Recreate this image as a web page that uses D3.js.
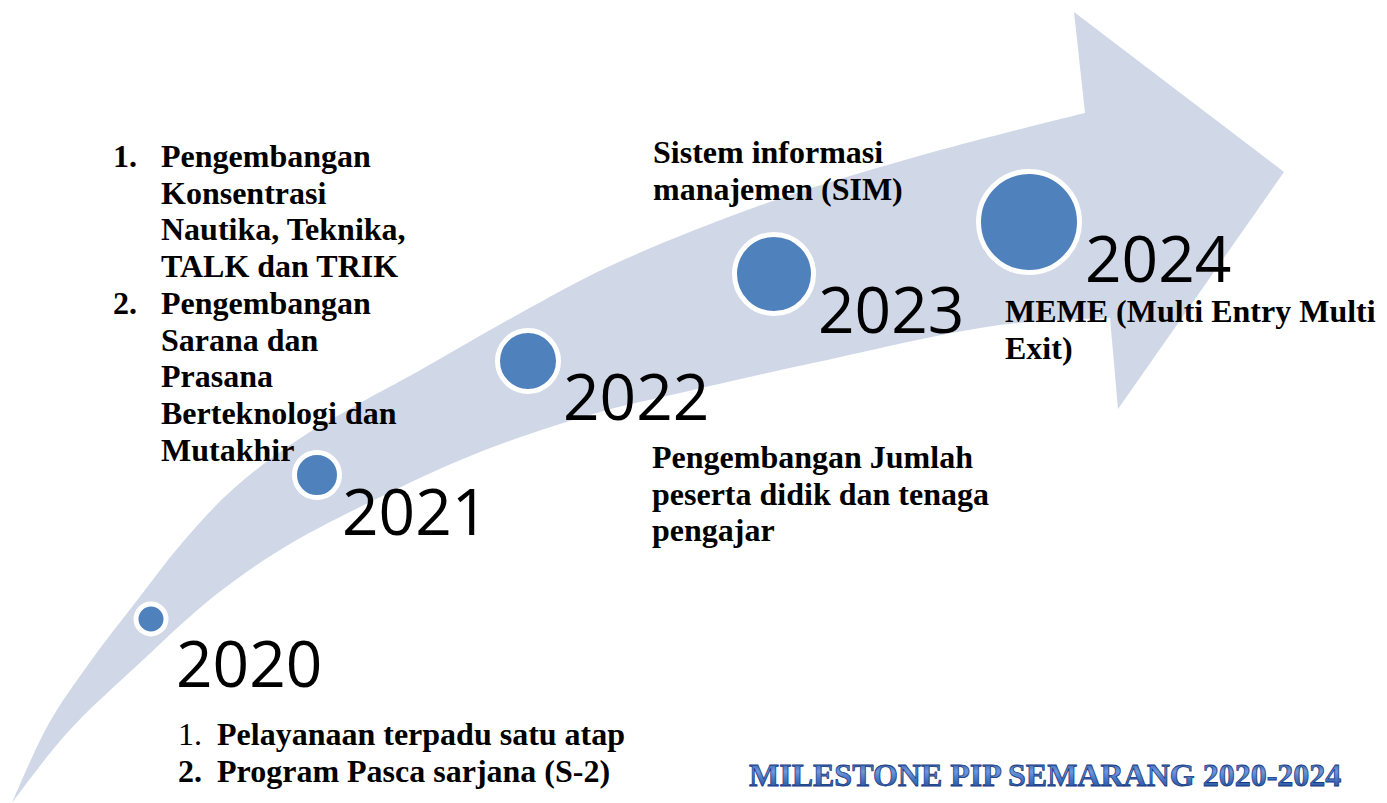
<!DOCTYPE html>
<html>
<head>
<meta charset="utf-8">
<script src="https://cdn.jsdelivr.net/npm/d3@7"></script>
<style>
    html, body { margin: 0; padding: 0; background: #fff; }
    svg { display: block; }
</style>
</head>
<body>
<svg id="milestone"></svg>
<script>
// ---- data ----
const YEARS = ['2020', '2021', '2022', '2023', '2024'];

const NOTES_2020 = [
    { num: '1.', regularNum: true, lines: ['Pelayanaan terpadu satu atap'] },
    { num: '2.', lines: ['Program Pasca sarjana (S-2)'] },
];
const NOTES_2021 = [
    { num: '1.', lines: ['Pengembangan', 'Konsentrasi', 'Nautika, Teknika,', 'TALK dan TRIK'] },
    { num: '2.', lines: ['Pengembangan', 'Sarana dan', 'Prasana', 'Berteknologi dan', 'Mutakhir'] },
];
const NOTES_2022 = [{ lines: ['Pengembangan Jumlah', 'peserta didik dan tenaga', 'pengajar'] }];
const NOTES_2023 = [{ lines: ['Sistem informasi', 'manajemen (SIM)'] }];
const NOTES_2024 = [{ lines: ['MEME (Multi Entry Multi', 'Exit)'] }];
const NOTES = [NOTES_2020, NOTES_2021, NOTES_2022, NOTES_2023, NOTES_2024];

const TITLE = 'MILESTONE PIP SEMARANG 2020-2024';

// ---- layout (diagram units, 1387 x 803) ----
const ARROW_UPPER = [
    [12, 803], [48, 725], [90, 662], [135, 603], [182, 543], [232, 490], [293, 443],
    [360, 403], [417, 372], [517, 315], [610, 266], [767, 203], [933, 152], [1085, 113],
];
const ARROW_HEAD = [[1074, 12], [1284, 172], [1118, 409], [1110, 318]];
const ARROW_LOWER = [
    [1110, 318], [1000, 325], [813, 363], [680, 393], [600, 412], [480, 452],
    [360, 507], [280, 550], [213, 597], [143, 660], [67, 733], [12, 803],
];

const NODES = [
    { cx: 151, cy: 619, r: 12.5 },
    { cx: 317, cy: 475, r: 20 },
    { cx: 528, cy: 361, r: 28 },
    { cx: 774, cy: 274, r: 37 },
    { cx: 1029, cy: 222, r: 48 },
];
const YEAR_POS = [[176, 687], [342, 535], [563, 420], [818, 333], [1085, 282]];
const NOTE_POS = [
    { numX: 178, textX: 217, y: 745 },
    { numX: 113, textX: 161, y: 167 },
    { textX: 652, y: 468 },
    { textX: 653, y: 163 },
    { textX: 1005, y: 322 },
];
const LINE_HEIGHT = 36.7;

const width = 1387;
const height = 803;

const x = d3.scaleLinear().domain([0, 1387]).range([0, width]);
const y = d3.scaleLinear().domain([0, 803]).range([0, height]);

const svg = d3.select('#milestone').attr('width', width).attr('height', height);

// title gradient
const defs = svg.append('defs');
const grad = defs.append('linearGradient')
    .attr('id', 'titleFill')
    .attr('x1', 0).attr('y1', 0).attr('x2', 0).attr('y2', 1);
grad.append('stop').attr('offset', '0%').attr('stop-color', '#1a4596');
grad.append('stop').attr('offset', '40%').attr('stop-color', '#6f97dc');
grad.append('stop').attr('offset', '60%').attr('stop-color', '#4a78c6');
grad.append('stop').attr('offset', '100%').attr('stop-color', '#173f8c');

// arrow body
const edge = d3.line()
    .x(d => x(d[0]))
    .y(d => y(d[1]))
    .curve(d3.curveCatmullRom.alpha(0.5));

const headPath = ARROW_HEAD.map(p => `L${x(p[0])},${y(p[1])}`).join('');
const lowerPath = edge(ARROW_LOWER).replace(/^M/, 'L');

svg.append('path')
    .attr('d', edge(ARROW_UPPER) + headPath + lowerPath + 'Z')
    .attr('fill', '#d0d8e8');

// nodes
svg.append('g')
    .selectAll('circle')
    .data(NODES)
    .join('circle')
    .attr('cx', d => x(d.cx))
    .attr('cy', d => y(d.cy))
    .attr('r', d => d.r + 2.5)
    .attr('fill', '#4f81bd')
    .attr('stroke', '#fff')
    .attr('stroke-width', 5);

// year labels
svg.append('g')
    .selectAll('text')
    .data(YEARS)
    .join('text')
    .attr('x', (d, i) => x(YEAR_POS[i][0]))
    .attr('y', (d, i) => y(YEAR_POS[i][1]))
    .attr('font-family', '"Open Sans", "Noto Sans", sans-serif')
    .attr('font-size', 64)
    .attr('fill', '#000')
    .text(d => d);

// notes
const notes = svg.append('g')
    .attr('font-family', '"Liberation Serif", "Times New Roman", serif')
    .attr('font-size', 32)
    .attr('font-weight', 'bold')
    .attr('fill', '#000');

NOTES.forEach((items, i) => {
    const pos = NOTE_POS[i];
    let row = 0;
    items.forEach(item => {
        if (item.num) {
            notes.append('text')
                .attr('x', x(pos.numX))
                .attr('y', y(pos.y + row * LINE_HEIGHT))
                .attr('font-weight', item.regularNum ? 'normal' : 'bold')
                .text(item.num);
        }
        item.lines.forEach(line => {
            notes.append('text')
                .attr('x', x(pos.textX))
                .attr('y', y(pos.y + row * LINE_HEIGHT))
                .text(line);
            row += 1;
        });
    });
});

// title
svg.append('text')
    .attr('x', x(749))
    .attr('y', y(786))
    .attr('font-family', '"Liberation Serif", "Times New Roman", serif')
    .attr('font-size', 32)
    .attr('font-weight', 'bold')
    .attr('fill', 'url(#titleFill)')
    .attr('stroke', '#163a80')
    .attr('stroke-width', 0.8)
    .text(TITLE);
</script>
</body>
</html>
